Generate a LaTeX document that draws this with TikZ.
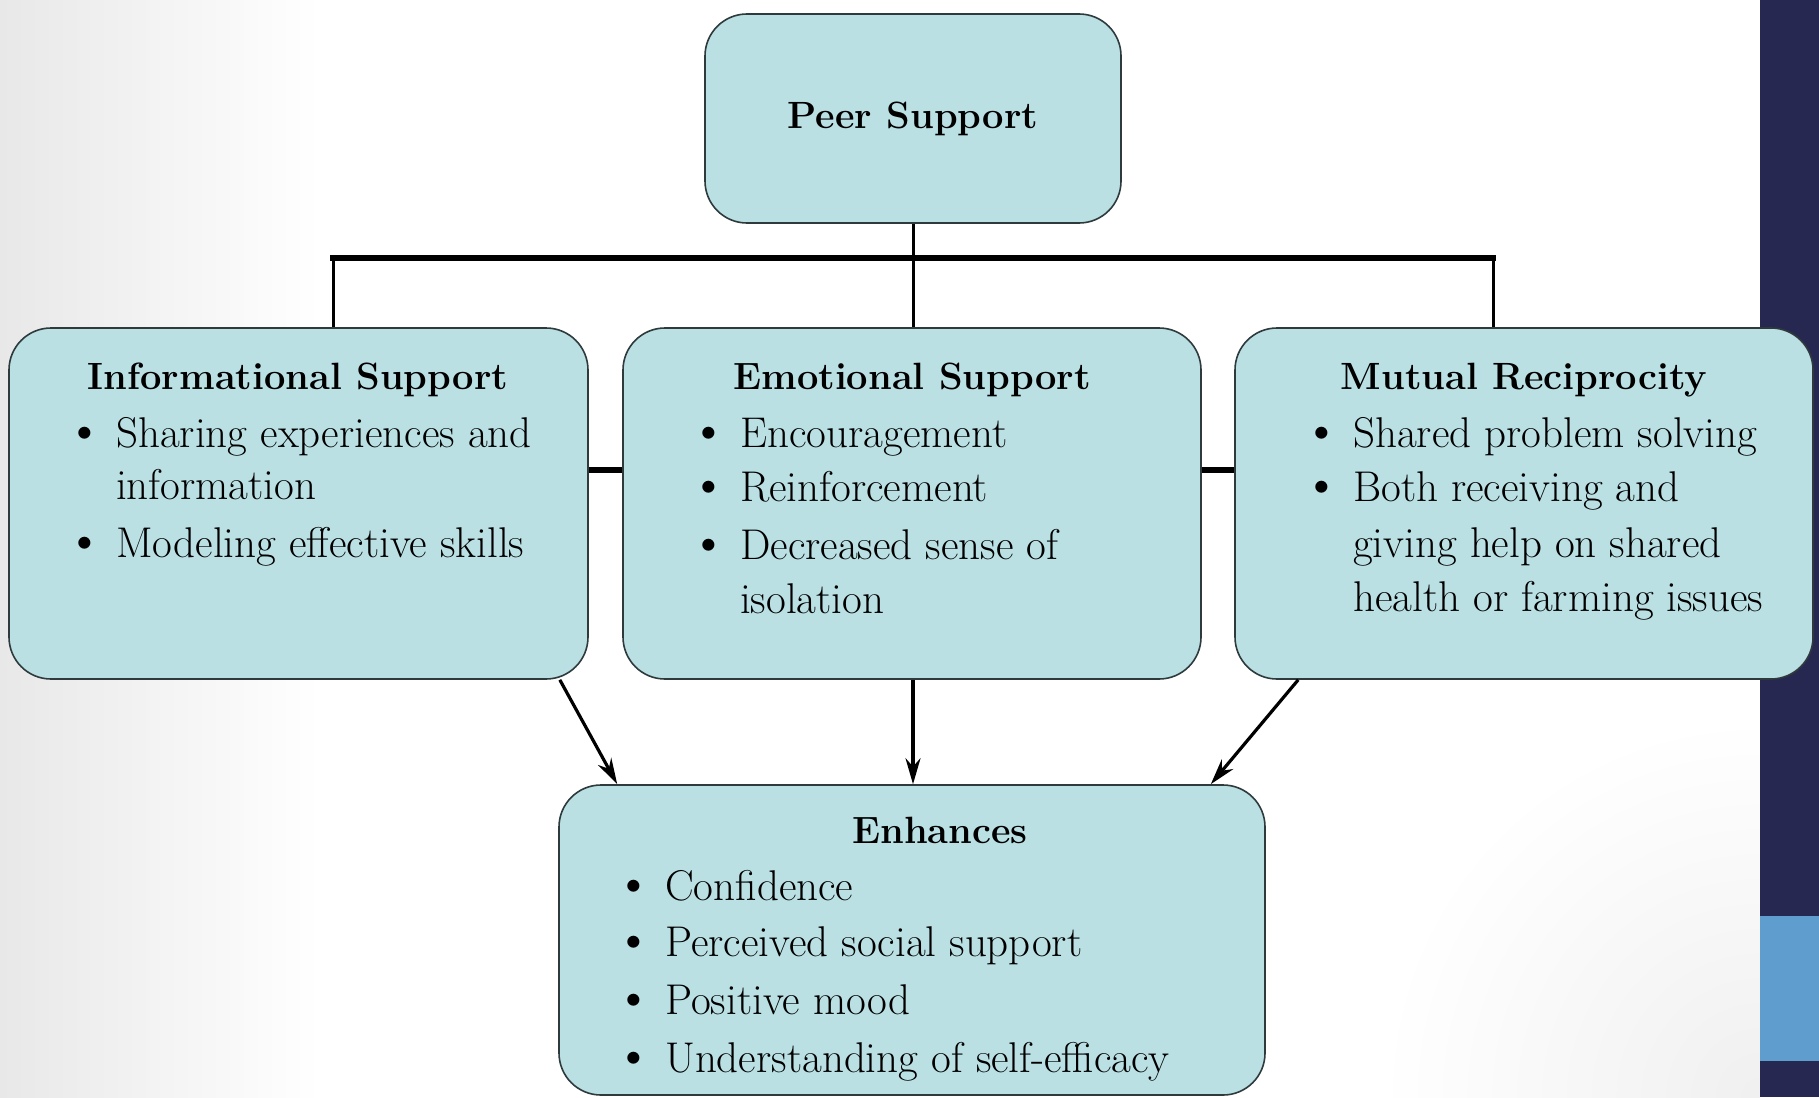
\documentclass[tikz,border=0pt]{standalone}
\usetikzlibrary{arrows.meta,calc}
\definecolor{boxfill}{HTML}{BAE0E4}
\definecolor{boxline}{HTML}{2E3A3C}
\definecolor{navy}{HTML}{272851}
\definecolor{sky}{HTML}{609DCF}
\newcommand{\bul}{\llap{\scalebox{1.25}{\textbullet}\hspace{12pt}}}
\tikzset{
  panel/.style={draw=boxline, line width=1.6pt, fill=boxfill, rounded corners=42pt,
                inner sep=0pt, rectangle},
  title/.style={font=\fontsize{38}{44}\selectfont\bfseries, anchor=base, inner sep=0pt},
  line/.style={font=\fontsize{43}{50}\selectfont, anchor=base west, inner sep=0pt},
  thin/.style={line width=3pt},
  bus/.style={line width=6pt},
  arr/.style={line width=3.2pt, -{Stealth[length=26pt,width=15pt]}},
}
\begin{document}
\begin{tikzpicture}[x=1pt,y=-1pt]
\useasboundingbox (0,0) rectangle (1819,1097);
% page background with soft grey edges, and the side band
\fill[white] (0,0) rectangle (1760,1097);
\shade[left color=black!9, right color=white] (0,0) rectangle (320,1097);
\shade[inner color=black!6, outer color=white] (1760,1097) circle (380);
\fill[white] (1760,0) rectangle (1900,1200);
\fill[navy] (1760,0) rectangle (1819,1097);
\fill[sky] (1760,916) rectangle (1819,1061);

% boxes
\node[panel, minimum width=416pt, minimum height=209pt] (peer) at (913,118.5) {};
\node[panel, minimum width=579pt, minimum height=351pt] (info) at (298.5,503.5) {};
\node[panel, minimum width=578pt, minimum height=351pt] (emo) at (912,503.5) {};
\node[panel, minimum width=578pt, minimum height=351pt] (mut) at (1524,503.5) {};
\node[panel, minimum width=706pt, minimum height=310pt] (enh) at (912,940) {};

% tree connectors
\coordinate (busL) at (333,258);
\coordinate (busR) at (1493,258);
\draw[thin] (peer.south) -- (peer.south |- busL);
\draw[bus, line cap=rect] (busL) -- (busR);
\draw[thin] (busL) -- (busL |- info.north);
\draw[thin] (peer.south |- busL) -- (peer.south |- emo.north);
\draw[thin] (busR) -- (busR |- mut.north);
\draw[bus] (info.east |- 0,470) -- (emo.west |- 0,470);
\draw[bus] (emo.east |- 0,470) -- (mut.west |- 0,470);

% arrows into the bottom box
\draw[arr] ([xshift=-29pt]info.south east) -- ([xshift=59pt]enh.north west);
\draw[arr] (peer.south |- emo.south) -- (peer.south |- enh.north);
\draw[arr] ([xshift=64pt]mut.south west) -- ([xshift=-55pt]enh.north east);

% texts
\node[title, anchor=center] (tpeer) at (peer) {Peer Support};

\node[title] (tinfo) at (298,389) {Informational Support};
\node[line] (i1) at (116,447) {\bul Sharing experiences and};
\node[line] (i2) at (116,499) {information};
\node[line] (i3) at (116,557) {\bul Modeling effective skills};

\node[title] (temo) at (912,389) {Emotional Support};
\node[line] (e1) at (740,447) {\bul Encouragement};
\node[line] (e2) at (740,501) {\bul Reinforcement};
\node[line] (e3) at (740,559) {\bul Decreased sense of};
\node[line] (e4) at (740,613) {isolation};

\node[title] (tmut) at (1524,389) {Mutual Reciprocity};
\node[line] (m1) at (1353,447) {\bul Shared problem solving};
\node[line] (m2) at (1353,501) {\bul Both receiving and};
\node[line] (m3) at (1353,557) {giving help on shared};
\node[line] (m4) at (1353,611) {health or farming issues};

\node[title] (tenh) at (940,843) {Enhances};
\node[line] (h1) at (665,900) {\bul Confidence};
\node[line] (h2) at (665,956) {\bul Perceived social support};
\node[line] (h3) at (665,1014) {\bul Positive mood};
\node[line] (h4) at (665,1072) {\bul Understanding of self-efficacy};
\end{tikzpicture}
\end{document}
